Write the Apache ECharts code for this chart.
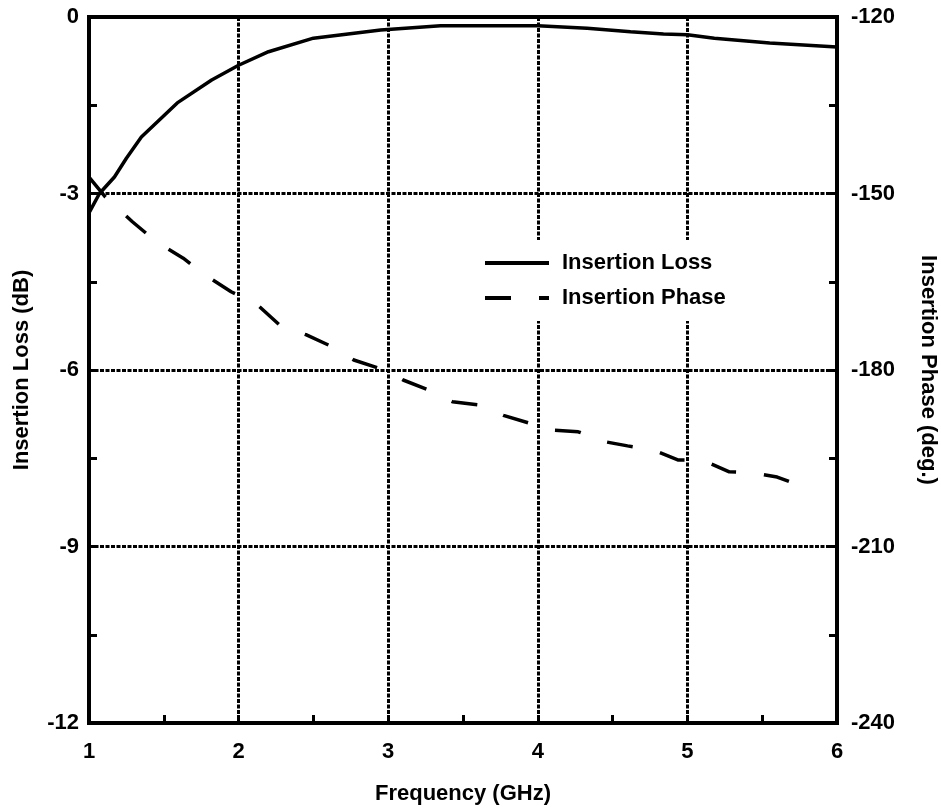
<!DOCTYPE html>
<html>
<head>
<meta charset="utf-8">
<script src="https://cdn.jsdelivr.net/npm/echarts@6/dist/echarts.min.js"></script>
<style>
html,body{margin:0;padding:0;background:#fff;}
#chart{width:941px;height:809px;}
</style>
</head>
<body>
<div id="chart"></div>
<script>
// ---- data ----
var lossFreq  = [1.0, 1.07, 1.17, 1.25, 1.35, 1.59, 1.82, 2.0, 2.2, 2.5, 2.95, 3.35, 4.0, 4.33, 4.62, 4.84, 5.0, 5.18, 5.55, 6.0];
var lossDb    = [-3.33, -3.0, -2.72, -2.4, -2.04, -1.46, -1.07, -0.82, -0.59, -0.36, -0.22, -0.15, -0.15, -0.19, -0.25, -0.29, -0.30, -0.36, -0.44, -0.51];
var phaseFreq = [1.0, 1.11, 1.29, 1.45, 1.63, 1.78, 1.95, 2.12, 2.28, 2.45, 2.63, 2.77, 3.0, 3.1, 3.27, 3.43, 3.62, 3.77, 3.94, 4.1, 4.27, 4.45, 4.6, 4.77, 4.94, 5.1, 5.28, 5.44, 5.6, 5.78];
var phaseDeg  = [-147.2, -150.6, -154.8, -158.2, -161, -163.9, -166.7, -168.8, -172.5, -174, -176.1, -178.3, -180.2, -181.7, -183.4, -185.4, -186, -187.7, -189, -190.2, -190.5, -192.2, -192.9, -193.6, -195.3, -195.3, -197.3, -197.5, -198.2, -199.9];
var seriesNames = ['Insertion Loss', 'Insertion Phase'];
var xTicks = [1, 2, 3, 4, 5, 6];
var lossTicks = [-12, -9, -6, -3, 0];
var phaseTicks = [-240, -210, -180, -150, -120];

function pairs(xs, ys){ return xs.map(function(x,i){ return [x, ys[i]]; }); }

var FONT = '"Liberation Sans", Arial, Helvetica, sans-serif';
var txt = {color:'#000', fontFamily:FONT, fontWeight:'bold', fontSize:22};
var gridLine = {show:true, lineStyle:{color:'#000', width:3, type:[4,1.5]}};
var tick = {show:true, inside:true, length:8, lineStyle:{color:'#000', width:3}};
var minor = {show:true, splitNumber:2, length:8, lineStyle:{color:'#000', width:3}};

var chart = echarts.init(document.getElementById('chart'), null, {renderer:'canvas'});
chart.setOption({
  animation:false,
  backgroundColor:'#fff',
  grid:{left:89, right:104, top:17, bottom:86, containLabel:false, outerBoundsMode:'none',
        show:true, borderColor:'#000', borderWidth:4, backgroundColor:'transparent'},
  legend:{
    data:seriesNames, orient:'vertical', left:473, top:240,
    itemWidth:64, itemHeight:14, itemGap:13,
    backgroundColor:'#fff', padding:[12,12,12,10],
    itemStyle:{opacity:0},
    lineStyle:{width:4},
    textStyle:Object.assign({}, txt, {padding:[0,0,0,8]})
  },
  xAxis:{
    type:'value', min:xTicks[0], max:xTicks[xTicks.length-1], interval:1,
    name:'Frequency (GHz)', nameLocation:'middle', nameGap:60, nameTextStyle:txt,
    axisLine:{show:true, onZero:false, lineStyle:{color:'#000', width:4}},
    axisTick:tick, minorTick:minor, splitLine:gridLine,
    axisLabel:Object.assign({}, txt, {margin:18})
  },
  yAxis:[{
    type:'value', position:'left', min:lossTicks[0], max:lossTicks[lossTicks.length-1], interval:3,
    name:'Insertion Loss (dB)', nameLocation:'middle', nameRotate:90, nameGap:56, nameTextStyle:txt,
    axisLine:{show:true, onZero:false, lineStyle:{color:'#000', width:4}},
    axisTick:tick, minorTick:minor, splitLine:gridLine,
    axisLabel:Object.assign({}, txt, {margin:10, padding:[9,0,0,0]})
  },{
    type:'value', position:'right', min:phaseTicks[0], max:phaseTicks[phaseTicks.length-1], interval:30,
    name:'Insertion Phase (deg.)', nameLocation:'middle', nameRotate:-90, nameGap:80, nameTextStyle:txt,
    axisLine:{show:true, onZero:false, lineStyle:{color:'#000', width:4}},
    axisTick:tick, minorTick:minor, splitLine:{show:false},
    axisLabel:Object.assign({}, txt, {margin:14, padding:[10,0,0,0]})
  }],
  series:[{
    name:seriesNames[0], type:'line', yAxisIndex:0, data:pairs(lossFreq, lossDb),
    symbol:'none', lineStyle:{color:'#000', width:3.5}, itemStyle:{color:'#000'}, z:5
  },{
    name:seriesNames[1], type:'line', yAxisIndex:1, data:pairs(phaseFreq, phaseDeg),
    symbol:'none', lineStyle:{color:'#000', width:3.5, type:[26,28]}, itemStyle:{color:'#000'}, z:5
  }]
});
</script>
</body>
</html>
